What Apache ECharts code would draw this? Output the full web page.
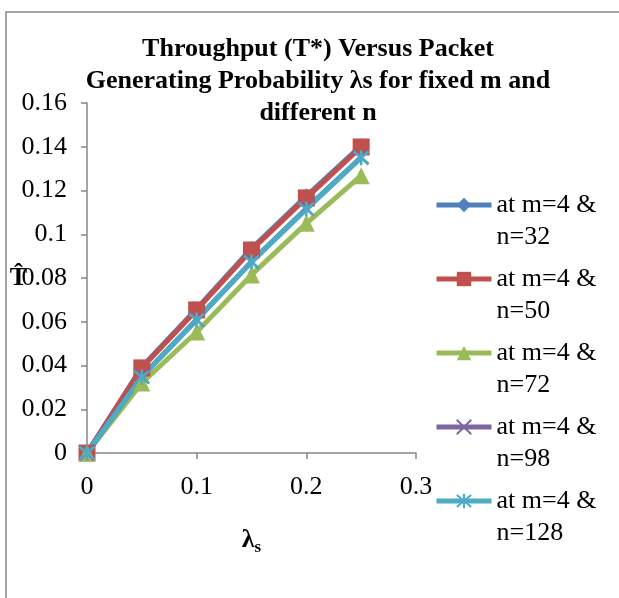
<!DOCTYPE html>
<html>
<head>
<meta charset="utf-8">
<script src="https://cdn.jsdelivr.net/npm/echarts@6/dist/echarts.min.js"></script>
<style>
  html, body { margin: 0; padding: 0; background: #fff; }
  #main { width: 619px; height: 598px; }
</style>
</head>
<body>
<div id="main"></div>
<script>
var lambdaS = [0, 0.05, 0.1, 0.15, 0.2, 0.25];
var n32 = [0, 0.0393, 0.0660, 0.0935, 0.1175, 0.1405];
var n50 = [0, 0.0389, 0.0654, 0.0928, 0.1166, 0.1399];
var n72 = [0, 0.0320, 0.0553, 0.0814, 0.1050, 0.1268];
var n98 = [0, 0.0350, 0.0610, 0.0875, 0.1118, 0.1352];
var n128 = [0, 0.0347, 0.0608, 0.0873, 0.1115, 0.1350];
var seriesNames = ['at m=4 & n=32', 'at m=4 & n=50', 'at m=4 & n=72', 'at m=4 & n=98', 'at m=4 & n=128'];

var serif = '"Liberation Serif", "Times New Roman", serif';
var chart = echarts.init(document.getElementById('main'));

function pairs (ys) {
  return lambdaS.map(function (x, i) { return [x, ys[i]]; });
}

// x and asterisk markers are stroked paths
var crossPath = 'path://M0,0L10,10M10,0L0,10';
var starPath = 'path://M0,0L10,10M10,0L0,10M5,-1L5,11';

function makeSeries (name, ys, color, symbol, size, stroked) {
  return {
    name: name,
    type: 'line',
    data: pairs(ys),
    symbol: symbol,
    symbolSize: size,
    showAllSymbol: true,
    lineStyle: { color: color, width: 5 },
    itemStyle: stroked
      ? { color: 'rgba(0,0,0,0)', borderColor: color, borderWidth: 2.5 }
      : { color: color, borderWidth: 0 },
    emphasis: { disabled: true },
    animation: false
  };
}

var option = {
  backgroundColor: '#fff',
  title: {
    text: 'Throughput (T*) Versus Packet\nGenerating Probability λs for fixed m and\ndifferent n',
    left: 318,
    top: 33,
    textAlign: 'center',
    padding: 0,
    textStyle: {
      fontFamily: serif,
      fontWeight: 'bold',
      fontSize: 26,
      lineHeight: 32,
      color: '#000'
    }
  },
  graphic: [{
    type: 'rect',
    shape: { x: 6, y: 12, width: 700, height: 700 },
    style: { fill: 'none', stroke: '#878787', lineWidth: 1.5 },
    silent: true
  }],
  legend: {
    orient: 'vertical',
    left: 434,
    top: 157,
    padding: 0,
    itemWidth: 55,
    itemHeight: 18,
    itemGap: -22,
    lineStyle: { width: 5 },
    // leading blank line so the icon sits on the first text line
    formatter: function (name) {
      return ' \n' + name.replace(' n=', '\nn=');
    },
    textStyle: {
      fontFamily: serif,
      fontSize: 26,
      lineHeight: 32,
      color: '#000'
    },
    data: seriesNames
  },
  grid: { left: 87, right: 203, top: 103, bottom: 145, containLabel: false, outerBoundsMode: 'none' },
  xAxis: {
    type: 'value',
    min: 0,
    max: 0.3,
    interval: 0.1,
    name: '{a|λ}{b|s}',
    nameLocation: 'middle',
    nameGap: 72,
    nameMoveOverlap: false,
    nameTextStyle: {
      rich: {
        a: { fontFamily: serif, fontWeight: 'bold', fontSize: 26, color: '#000' },
        b: { fontFamily: serif, fontWeight: 'bold', fontSize: 17, color: '#000', padding: [14, 0, 0, 0] }
      }
    },
    axisLine: { show: true, lineStyle: { color: '#878787', width: 1.5 } },
    axisTick: { show: true, length: 6, lineStyle: { color: '#878787', width: 1.5 } },
    axisLabel: { fontFamily: serif, fontSize: 26, color: '#000', margin: 21 },
    splitLine: { show: false }
  },
  yAxis: {
    type: 'value',
    min: 0,
    max: 0.16,
    interval: 0.02,
    name: 'T\u0302',
    nameLocation: 'middle',
    nameRotate: 0,
    nameGap: 60,
    nameMoveOverlap: false,
    nameTextStyle: { fontFamily: serif, fontWeight: 'bold', fontSize: 26, color: '#000' },
    axisLine: { show: true, lineStyle: { color: '#878787', width: 1.5 } },
    axisTick: { show: true, length: 6, lineStyle: { color: '#878787', width: 1.5 } },
    axisLabel: { fontFamily: serif, fontSize: 26, color: '#000', margin: 20 },
    splitLine: { show: false }
  },
  series: [
    makeSeries(seriesNames[0], n32, '#4F81BD', 'diamond', 15, false),
    makeSeries(seriesNames[1], n50, '#C0504D', 'rect', 17, false),
    makeSeries(seriesNames[2], n72, '#9BBB59', 'triangle', 17, false),
    makeSeries(seriesNames[3], n98, '#8064A2', crossPath, 14, true),
    makeSeries(seriesNames[4], n128, '#4BACC6', starPath, 15, true)
  ]
};

chart.setOption(option);
</script>
</body>
</html>
